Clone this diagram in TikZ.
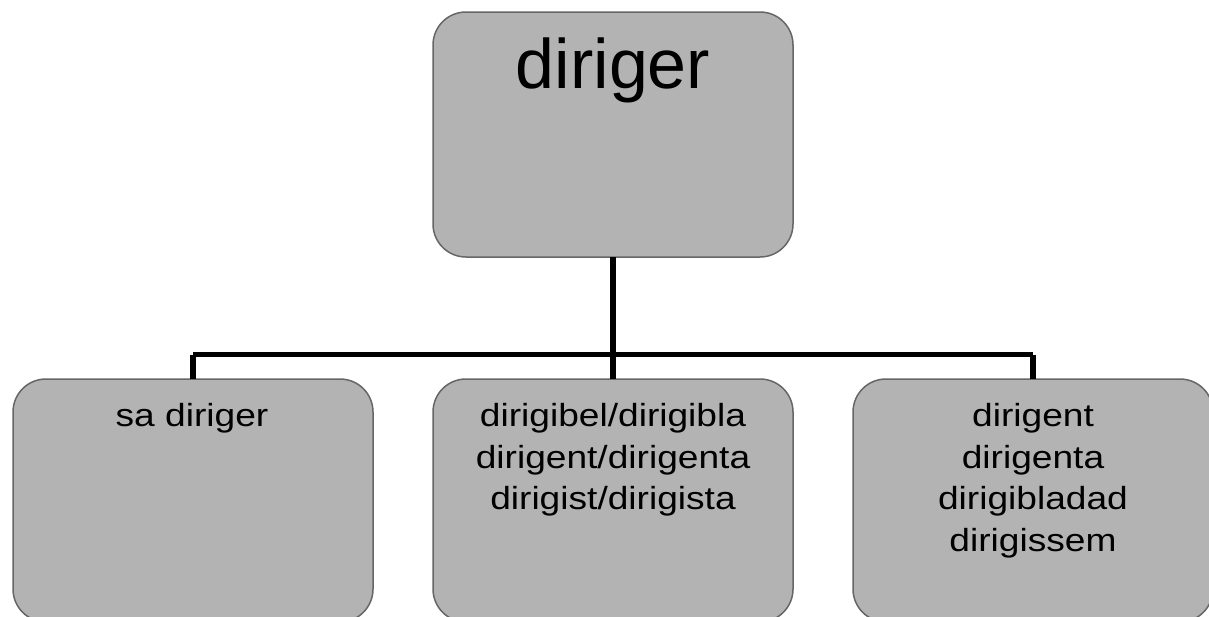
\documentclass[tikz,border=0pt]{standalone}
\usepackage{fontspec}
\setmainfont{Liberation Sans}
\newfontfamily\widefont[FakeStretch=1.16]{Liberation Sans}
\definecolor{boxfill}{HTML}{B3B3B3}
\definecolor{boxline}{HTML}{666666}
\begin{document}
\begin{tikzpicture}[x=1pt,y=-1pt,
  wbox/.style={draw=boxline,fill=boxfill,line width=1.5pt,rounded corners=33pt,
    minimum width=360pt,inner sep=0pt,outer sep=0pt},
  wtext/.style={inner sep=0pt,outer sep=0pt,align=center,anchor=base,
    font=\widefont\fontsize{32}{41.7}\selectfont},
  conn/.style={draw=black,line width=5.5pt}]
\useasboundingbox (0,0) rectangle (1209,616);
\node[wbox,minimum height=245pt] (top) at (613,134.5) {};
\node[wbox,minimum height=243pt] (left) at (193,500.5) {};
\node[wbox,minimum height=243pt] (mid) at (613,500.5) {};
\node[wbox,minimum height=243pt] (right) at (1033,500.5) {};
\coordinate (hub) at (613,354.5);
\coordinate (hl) at (193,354.5);
\coordinate (hr) at (1033,354.5);
\draw[conn] (top.south) -- (hub);
\draw[conn] (hl) -- (hr);
\draw[conn] (hl) -- (left.north);
\draw[conn] (hub) -- (mid.north);
\draw[conn] (hr) -- (right.north);
\node[inner sep=0pt,anchor=base,font=\fontsize{70}{80}\selectfont] (ttop) at (613,88) {diriger};
\node[wtext] (tleft) at (192,426.5) {sa diriger};
\node[wtext] (tmid) at (613,509.9) {dirigibel/dirigibla\\dirigent/dirigenta\\dirigist/dirigista};
\node[wtext] (tright) at (1033,551.6) {dirigent\\dirigenta\\dirigibladad\\dirigissem};
\end{tikzpicture}
\end{document}
